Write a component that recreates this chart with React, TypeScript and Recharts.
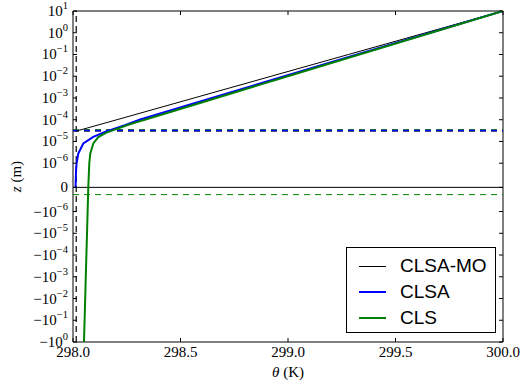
import React from 'react';
import { LineChart, Line, XAxis, YAxis, ReferenceLine, ReferenceArea, Legend } from 'recharts';

// ---------- data ----------
const thetaTicks = [298.0, 298.5, 299.0, 299.5, 300.0];
const zTicks = [10, 1, 0.1, 0.01, 0.001, 1e-4, 1e-5, 1e-6, 0, -1e-6, -1e-5, -1e-4, -1e-3, -1e-2, -1e-1, -1];
const zTickLabels = ['10^1', '10^0', '10^−1', '10^−2', '10^−3', '10^−4', '10^−5', '10^−6', '0',
  '−10^−6', '−10^−5', '−10^−4', '−10^−3', '−10^−2', '−10^−1', '−10^0'];

const clsaMoTheta = [298.015, 298.204, 298.563, 298.922, 299.281, 299.641, 300.0];
const clsaMoZ = [2.99e-5, 1e-4, 1e-3, 1e-2, 1e-1, 1, 10];

const clsaTheta = [298.012, 298.013, 298.0144, 298.0167, 298.0246, 298.0479, 298.0944, 298.1487, 298.2417, 298.3128, 298.646, 298.983, 299.321, 299.661, 300.0];
const clsaZ = [0, 3.8e-7, 7.1e-7, 1e-6, 2.8e-6, 8.1e-6, 1.63e-5, 2.77e-5, 5.6e-5, 1.03e-4, 1e-3, 1e-2, 0.1, 1, 10];

const clsTheta = [298.0511, 298.0539, 298.0567, 298.0595, 298.0623, 298.0652, 298.068, 298.0711, 298.0734, 298.0758, 298.0804, 298.0944, 298.1176, 298.1548, 298.2013, 298.257, 298.3128, 298.334, 298.667, 298.999, 299.332, 299.666, 300.0];
const clsZ = [-1, -0.1, -0.01, -1e-3, -1e-4, -1e-5, -1e-6, 0, 5.1e-7, 1e-6, 2.8e-6, 8.1e-6, 1.58e-5, 2.55e-5, 3.69e-5, 5.89e-5, 8.6e-5, 1e-4, 1e-3, 1e-2, 0.1, 1, 10];

const surfaceTheta = 298.015;
const z0Black = 2.99e-5;
const z0Blue = 3.2e-5;
const z0Green = 3.5e-5;
const dGreen = -3e-7;

const seriesNames = ['CLSA-MO', 'CLSA', 'CLS'];

// ---------- helpers ----------
const zip = (t: number[], z: number[]) => t.map((v, i) => ({ theta: v, z: z[i] }));
const clsaMoData = zip(clsaMoTheta, clsaMoZ);
const clsaData = zip(clsaTheta, clsaZ);
const clsData = zip(clsTheta, clsZ);

// matplotlib-like symlog scale (linthresh, linscale, base 10)
function makeSymlog(linthresh: number, linscale: number, dom0: number[] = [0, 1], rng0: number[] = [0, 1]): any {
  const adj = linscale / (1 - 1 / 10);
  const fwd = (v: number) => {
    const a = Math.abs(v);
    if (a <= linthresh) return (v / linthresh) * adj;
    return Math.sign(v) * (adj + Math.log10(a / linthresh));
  };
  const inv = (t: number) => {
    const a = Math.abs(t);
    if (a <= adj) return (t / adj) * linthresh;
    return Math.sign(t) * linthresh * Math.pow(10, a - adj);
  };
  let dom = dom0.slice();
  let rng = rng0.slice();
  const s: any = (v: number) => {
    const t0 = fwd(dom[0]);
    const t1 = fwd(dom[dom.length - 1]);
    const r0 = rng[0];
    const r1 = rng[rng.length - 1];
    return r0 + ((fwd(v) - t0) / (t1 - t0)) * (r1 - r0);
  };
  s.domain = (...args: any[]) => {
    if (!args.length) return dom.slice();
    dom = Array.from(args[0], Number);
    return s;
  };
  s.range = (...args: any[]) => {
    if (!args.length) return rng.slice();
    rng = Array.from(args[0], Number);
    return s;
  };
  s.invert = (p: number) => {
    const t0 = fwd(dom[0]);
    const t1 = fwd(dom[dom.length - 1]);
    const r0 = rng[0];
    const r1 = rng[rng.length - 1];
    return inv(t0 + ((p - r0) / (r1 - r0)) * (t1 - t0));
  };
  s.copy = () => makeSymlog(linthresh, linscale, dom, rng);
  s.ticks = () => zTicks.slice();
  s.tickFormat = () => (v: number) => String(v);
  s.nice = () => s;
  s.clamp = () => s;
  return s;
}
const symlogScale = makeSymlog(1e-6, 1);

// ---------- layout ----------
const W = 521;
const H = 385;
const M = { top: 11, right: 18, bottom: 13, left: 13 };
const YW = 60;
const XH = 30;
const PLOT = { left: M.left + YW, right: W - M.right, top: M.top, bottom: H - M.bottom - XH };
const SERIF = 'Liberation Serif';
const SANS = 'Liberation Sans';
const colors: Record<string, string> = { 'CLSA-MO': '#000000', CLSA: '#0000ff', CLS: '#008000' };
const widths: Record<string, number> = { 'CLSA-MO': 1, CLSA: 2, CLS: 2 };

function YTick(props: any) {
  const { y, payload } = props;
  const idx = zTicks.indexOf(payload.value);
  const label = idx >= 0 ? zTickLabels[idx] : String(payload.value);
  const parts = label.split('^');
  return (
    <g>
      <line x1={PLOT.left} x2={PLOT.left + 4} y1={y} y2={y} stroke="#000" strokeWidth={1} />
      <line x1={PLOT.right - 4} x2={PLOT.right} y1={y} y2={y} stroke="#000" strokeWidth={1} />
      <text x={PLOT.left - 5} y={y + 5} textAnchor="end" fontFamily={SERIF} fontSize={15} fill="#000">
        {parts[0]}
        {parts.length > 1 ? (
          <tspan dy={-7} fontSize={10.5}>{parts[1]}</tspan>
        ) : null}
      </text>
    </g>
  );
}

function XTick(props: any) {
  const { x, payload } = props;
  return (
    <g>
      <line x1={x} x2={x} y1={PLOT.bottom} y2={PLOT.bottom - 4} stroke="#000" strokeWidth={1} />
      <line x1={x} x2={x} y1={PLOT.top} y2={PLOT.top + 4} stroke="#000" strokeWidth={1} />
      <text x={x} y={PLOT.bottom + 15} textAnchor="middle" fontFamily={SERIF} fontSize={15} fill="#000">
        {Number(payload.value).toFixed(1)}
      </text>
    </g>
  );
}

function LegendBox(props: any) {
  const payload = (props.payload || []).slice().sort(
    (a: any, b: any) => seriesNames.indexOf(String(a.value)) - seriesNames.indexOf(String(b.value))
  );
  return (
    <div style={{ width: 150, height: 86, border: '1px solid #000', background: '#fff', boxSizing: 'border-box', position: 'relative' }}>
      {payload.map((e: any, i: number) => {
        const name = String(e.value);
        return (
          <div key={name} style={{ position: 'absolute', left: 0, top: 5 + i * 26, height: 26, width: 148, display: 'flex', alignItems: 'center' }}>
            <div style={{ marginLeft: 12, width: 27, height: 0, borderTop: `${widths[name] || 1}px solid ${colors[name] || e.color}` }} />
            <span style={{ marginLeft: 14, fontFamily: SANS, fontSize: 19, color: '#000', lineHeight: '26px' }}>{name}</span>
          </div>
        );
      })}
    </div>
  );
}

export default function App() {
  const cy = (PLOT.top + PLOT.bottom) / 2;
  const cx = (PLOT.left + PLOT.right) / 2;
  return (
    <div style={{ position: 'absolute', left: 0, top: 0, width: W, height: H, background: '#fff' }}>
      <LineChart width={W} height={H} margin={M}>
        <XAxis
          type="number"
          dataKey="theta"
          domain={[298, 300]}
          ticks={thetaTicks}
          allowDataOverflow
          axisLine={false}
          tickLine={false}
          tick={<XTick />}
          interval={0}
          height={XH}
          label={{
            content: () => (
              <text x={cx} y={PLOT.bottom + 35} textAnchor="middle" fontFamily={SERIF} fontSize={15} fill="#000">
                <tspan fontStyle="italic">θ</tspan> (K)
              </text>
            ),
          }}
        />
        <YAxis
          type="number"
          dataKey="z"
          scale={symlogScale}
          domain={[-1, 10]}
          ticks={zTicks}
          allowDataOverflow
          axisLine={false}
          tickLine={false}
          tick={<YTick />}
          interval={0}
          width={YW}
          label={{
            content: () => (
              <text x={16} y={cy} textAnchor="middle" dominantBaseline="central" transform={`rotate(-90, 16, ${cy})`} fontFamily={SERIF} fontSize={15} fill="#000">
                <tspan fontStyle="italic">z</tspan> (m)
              </text>
            ),
          }}
        />
        <ReferenceLine y={0} stroke="#000" strokeWidth={1} />
        <ReferenceLine x={surfaceTheta} stroke="#000" strokeWidth={1.2} strokeDasharray="6 4" />
        <ReferenceLine y={z0Black} stroke="#000" strokeWidth={1} strokeDasharray="6 5" />
        <ReferenceLine y={z0Green} stroke="#008000" strokeWidth={1} strokeDasharray="6 5" />
        <ReferenceLine y={z0Blue} stroke="#0000ff" strokeWidth={1.5} strokeDasharray="6 5" />
        <ReferenceLine y={dGreen} stroke="#008000" strokeWidth={1} strokeDasharray="6 5" />
        <Line data={clsaMoData} dataKey="z" name={seriesNames[0]} stroke={colors['CLSA-MO']} strokeWidth={1} dot={false} isAnimationActive={false} type="linear" />
        <Line data={clsaData} dataKey="z" name={seriesNames[1]} stroke={colors.CLSA} strokeWidth={2} dot={false} isAnimationActive={false} type="linear" />
        <Line data={clsData} dataKey="z" name={seriesNames[2]} stroke={colors.CLS} strokeWidth={2} dot={false} isAnimationActive={false} type="linear" />
        <ReferenceArea x1={298} x2={300} y1={-1} y2={10} fill="none" stroke="#000" strokeWidth={1} ifOverflow="visible" />
        <Legend
          layout="vertical"
          align="center"
          verticalAlign="middle"
          content={<LegendBox />}
          wrapperStyle={{ left: 346, top: 247, width: 150, height: 86 }}
        />
      </LineChart>
    </div>
  );
}
